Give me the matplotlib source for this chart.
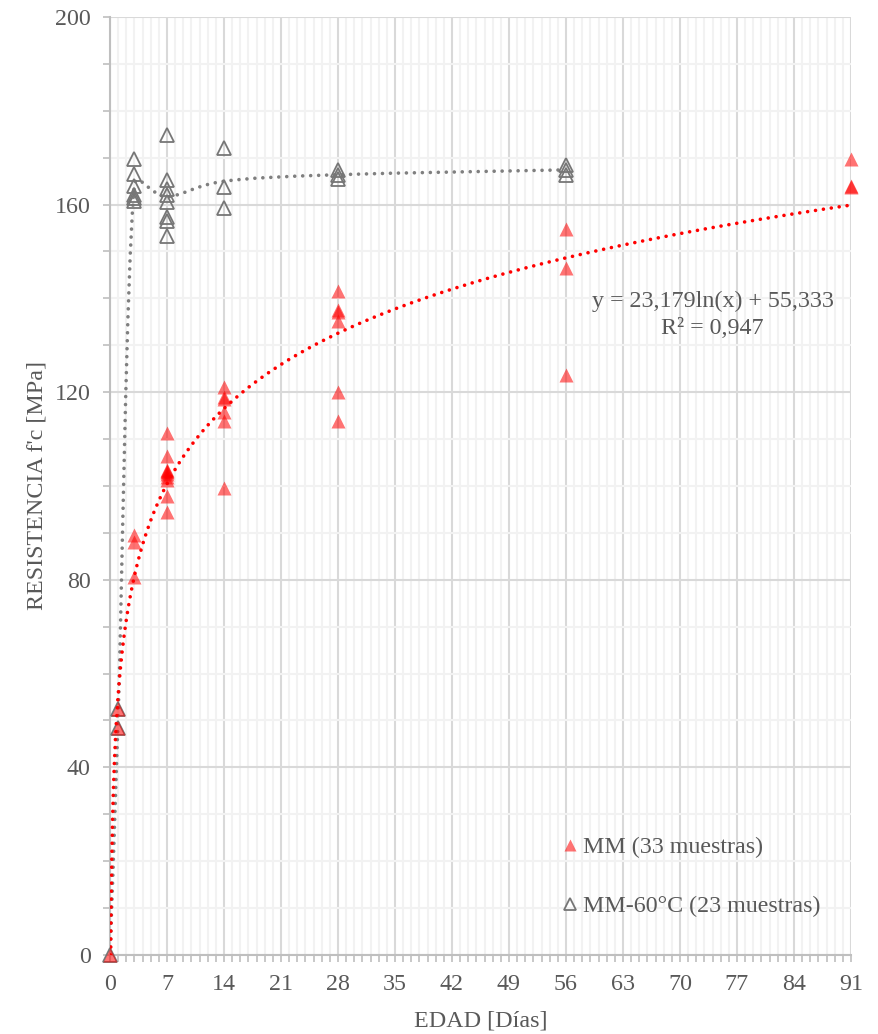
import numpy as np
import matplotlib
matplotlib.use("Agg")
import matplotlib.pyplot as plt
from matplotlib.path import Path
from matplotlib.patches import PathPatch
from matplotlib.ticker import MultipleLocator
from matplotlib.lines import Line2D

# ---------------- data ----------------
mm_age = [0, 1, 1, 3, 3, 3,
          7, 7, 7, 7, 7, 7, 7, 7, 7, 7,
          14, 14, 14, 14, 14, 14,
          28, 28, 28, 28, 28, 28,
          56, 56, 56,
          91, 91, 91]
mm_fc = [0, 52.5, 48.5, 89.5, 88, 80.5,
         111.3, 106.3, 103.5, 103, 102.5, 102, 101.3, 97.8, 94.5, 103.2,
         121, 119, 118.5, 115.8, 113.8, 99.6,
         141.5, 137.5, 137, 135.2, 120, 113.8,
         154.8, 146.4, 123.6,
         169.8, 164, 163.8]

mm60_age = [0, 1, 1,
            3, 3, 3, 3, 3, 3,
            7, 7, 7, 7, 7, 7, 7, 7,
            14, 14, 14,
            28, 28, 28,
            56, 56, 56]
mm60_fc = [0, 52.5, 48.5,
           169.8, 166.6, 164, 162, 161.3, 160.8,
           174.8, 165.2, 163.3, 162, 160.6, 157.4, 156.6, 153.3,
           172, 163.7, 159.2,
           167.4, 166.3, 165.4,
           168.4, 167.4, 166.4]

fit_a = 23.179
fit_b = 55.333
eq_text = "y = 23,179ln(x) + 55,333\nR² = 0,947"
label_mm = "MM (33 muestras)"
label_mm60 = "MM-60°C (23 muestras)"
xlabel = "EDAD [Días]"
ylabel = "RESISTENCIA f'c [MPa]"

# ---------------- style ----------------
plt.rcParams['font.family'] = ['Liberation Serif', 'DejaVu Serif']
txt = '#595959'
red = '#ff0000'
gray = '#767676'
FS = 17.3

fig = plt.figure(figsize=(8.79, 10.34), dpi=100)
ax = fig.add_axes([0.1251, 0.0764, 0.9681 - 0.1251, 0.9836 - 0.0764])

ax.set_xlim(0, 91)
ax.set_ylim(0, 200)
ax.xaxis.set_major_locator(MultipleLocator(7))
ax.xaxis.set_minor_locator(MultipleLocator(1))
ax.yaxis.set_major_locator(MultipleLocator(40))
ax.yaxis.set_minor_locator(MultipleLocator(10))
ax.grid(which='minor', color='#f2f2f2', lw=1.5, zorder=0)
ax.grid(which='major', color='#d9d9d9', lw=1.5, zorder=0.5)
ax.set_axisbelow(True)
for s in ['top', 'right']:
    ax.spines[s].set_visible(False)
for s in ['left', 'bottom']:
    ax.spines[s].set_color('#bfbfbf')
    ax.spines[s].set_linewidth(1.5)
ax.tick_params(which='both', color='#bfbfbf', width=1.2, labelcolor=txt,
               labelsize=FS, direction='out', length=5)
ax.tick_params(axis='x', pad=9)
ax.tick_params(axis='y', pad=9)

# gray smoothed line through group means (Excel-like smoothing in screen space)
ages = sorted(set(mm60_age))
means = [np.mean([v for a, v in zip(mm60_age, mm60_fc) if a == g]) for g in ages]
Pd = np.column_stack([ages, means]).astype(float)
T = ax.transData
P = T.transform(Pd)
verts = [P[0]]
n = len(P)
for i in range(n - 1):
    p0 = P[i - 1] if i > 0 else P[i]
    p1 = P[i]
    p2 = P[i + 1]
    p3 = P[i + 2] if i + 2 < n else P[i + 1]
    d12 = np.hypot(*(p2 - p1))
    d02 = np.hypot(*(p2 - p0))
    d13 = np.hypot(*(p3 - p1))
    f1 = 1 / 6.0
    f2 = 1 / 6.0
    if d02 / 6.0 >= d12 / 2.0 and d02 > 0:
        f1 = d12 / 2.0 / d02
    if d13 / 6.0 >= d12 / 2.0 and d13 > 0:
        f2 = d12 / 2.0 / d13
    c1 = p1 + (p2 - p0) * f1
    c2 = p2 - (p3 - p1) * f2
    verts += [c1, c2, p2]
verts_data = T.inverted().transform(np.array(verts))
codes = [Path.MOVETO] + [Path.CURVE4] * (len(verts) - 1)
patch = PathPatch(Path(verts_data, codes), fill=False, edgecolor='#7f7f7f',
                  lw=2.6, linestyle=(0, (0.01, 2.2)), zorder=3)
patch.set_capstyle('round')
ax.add_patch(patch)

# open gray triangles
ax.plot(mm60_age, mm60_fc, linestyle='none', marker='^', markersize=10.5,
        markerfacecolor='none', markeredgecolor=gray, markeredgewidth=1.3,
        zorder=4, clip_on=False)

# red filled triangles
ax.plot(mm_age, mm_fc, linestyle='none', marker='^', markersize=10,
        markerfacecolor=red, markeredgecolor='none', alpha=0.55,
        zorder=5, clip_on=False)

# red log trendline
x0 = np.exp(-fit_b / fit_a)
xs = np.concatenate([np.geomspace(x0, 3, 300), np.linspace(3, 91, 400)])
ax.plot(xs, fit_a * np.log(xs) + fit_b, color=red, lw=2.6,
        linestyle=(0, (0.01, 2.2)), dash_capstyle='round', zorder=6)

ax.text(74.0, 136.5, eq_text, ha='center', va='center', fontsize=FS,
        color=txt, linespacing=1.35, zorder=7)

ax.set_xlabel(xlabel, fontsize=FS, color=txt, labelpad=11)
ax.set_ylabel(ylabel, fontsize=FS, color=txt, labelpad=5)

h1 = Line2D([], [], linestyle='none', marker='^', markersize=8,
            markerfacecolor=red, markeredgecolor='none', alpha=0.55)
h2 = Line2D([], [], linestyle='none', marker='^', markersize=8,
            markerfacecolor='none', markeredgecolor=gray, markeredgewidth=1.3)
leg = ax.legend([h1, h2], [label_mm, label_mm60], loc='upper left',
                bbox_to_anchor=(0.595, 0.139), frameon=False, fontsize=FS,
                labelspacing=1.55, handlelength=0.6, handletextpad=0.25,
                borderpad=0)
for t in leg.get_texts():
    t.set_color(txt)

fig.savefig('out.png', dpi=100)
